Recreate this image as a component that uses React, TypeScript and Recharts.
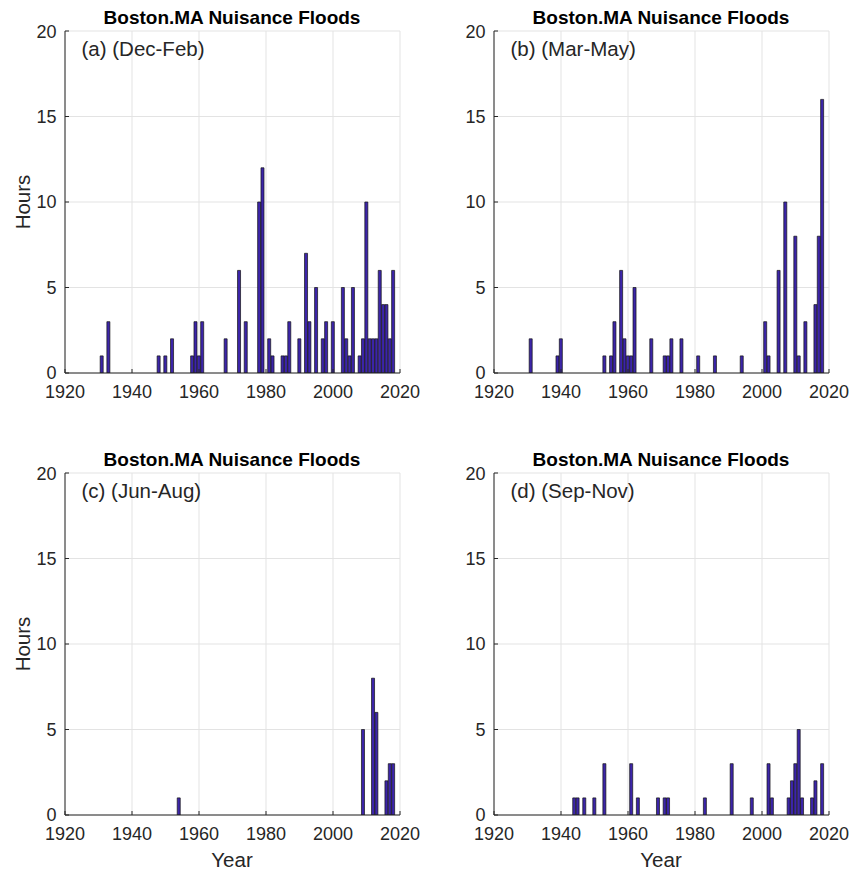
import { BarChart, Bar, XAxis, YAxis, CartesianGrid } from "recharts";

// hours of nuisance flooding per year, by season
const winterYears = [1931, 1933, 1948, 1950, 1952, 1958, 1959, 1960, 1961, 1968, 1972, 1974, 1978, 1979, 1981, 1982, 1985, 1986, 1987, 1990, 1992, 1993, 1995, 1997, 1998, 2000, 2003, 2004, 2005, 2006, 2008, 2009, 2010, 2011, 2012, 2013, 2014, 2015, 2016, 2017, 2018];
const winterHours = [1, 3, 1, 1, 2, 1, 3, 1, 3, 2, 6, 3, 10, 12, 2, 1, 1, 1, 3, 2, 7, 3, 5, 2, 3, 3, 5, 2, 1, 5, 1, 2, 10, 2, 2, 2, 6, 4, 4, 2, 6];

const springYears = [1931, 1939, 1940, 1953, 1955, 1956, 1958, 1959, 1960, 1961, 1962, 1967, 1971, 1972, 1973, 1976, 1981, 1986, 1994, 2001, 2002, 2005, 2007, 2010, 2011, 2013, 2016, 2017, 2018];
const springHours = [2, 1, 2, 1, 1, 3, 6, 2, 1, 1, 5, 2, 1, 1, 2, 2, 1, 1, 1, 3, 1, 6, 10, 8, 1, 3, 4, 8, 16];

const summerYears = [1954, 2009, 2012, 2013, 2016, 2017, 2018];
const summerHours = [1, 5, 8, 6, 2, 3, 3];

const fallYears = [1944, 1945, 1947, 1950, 1953, 1961, 1963, 1969, 1971, 1972, 1983, 1991, 1997, 2002, 2003, 2008, 2009, 2010, 2011, 2012, 2015, 2016, 2018];
const fallHours = [1, 1, 1, 1, 3, 3, 1, 1, 1, 1, 1, 3, 1, 3, 1, 1, 2, 3, 5, 1, 1, 2, 3];

const xTicks = [1920, 1940, 1960, 1980, 2000, 2020];
const yTicks = [0, 5, 10, 15, 20];

const FONT = '"Liberation Sans", Arial, Helvetica, sans-serif';
const INK = "#262626";
const PW = 335;
const PH = 342;

const toRows = (years: number[], hours: number[]) =>
  years.map((year, i) => ({ year, hours: hours[i] }));

type PanelProps = {
  left: number;
  top: number;
  label: string;
  years: number[];
  hours: number[];
  showHours: boolean;
  showYear: boolean;
};

const Panel = ({ left, top, label, years, hours, showHours, showYear }: PanelProps) => {
  const data = toRows(years, hours);
  const padL = 60;
  const padT = 10;
  const padR = 30;
  return (
    <>
      <div style={{ position: "absolute", left: left - padL, top: top - padT }}>
        <BarChart
          width={padL + PW + padR}
          height={padT + PH + 40}
          data={data}
          margin={{ top: padT, right: padR, bottom: 0, left: 0 }}
          barCategoryGap={0}
          barGap={0}
        >
          <CartesianGrid stroke="#e3e3e3" strokeWidth={1} />
          <XAxis
            dataKey="year"
            type="number"
            domain={[1920, 2020]}
            ticks={xTicks}
            allowDataOverflow
            height={40}
            stroke={INK}
            tickSize={-4}
            tickMargin={16.5}
            tick={{ fill: INK, fontSize: 18, fontFamily: FONT }}
          />
          <XAxis
            xAxisId="top"
            orientation="top"
            type="number"
            domain={[1920, 2020]}
            ticks={xTicks}
            allowDataOverflow
            height={0}
            stroke={INK}
            tickSize={-4}
            tick={false}
          />
          <YAxis
            type="number"
            domain={[0, 20]}
            ticks={yTicks}
            allowDataOverflow
            width={padL}
            stroke={INK}
            tickSize={-4}
            tickMargin={12.5}
            tick={{ fill: INK, fontSize: 18, fontFamily: FONT }}
          />
          <YAxis
            yAxisId="right"
            orientation="right"
            type="number"
            domain={[0, 20]}
            ticks={yTicks}
            width={0}
            stroke={INK}
            tickSize={-4}
            tick={false}
          />
          <Bar
            dataKey="hours"
            fill="#3c25a9"
            stroke="#141414"
            strokeWidth={0.7}
            barSize={PW / 100}
            isAnimationActive={false}
          />
        </BarChart>
      </div>
      <div
        style={{
          position: "absolute",
          left,
          width: PW,
          top: top - 25,
          textAlign: "center",
          fontFamily: FONT,
          fontWeight: "bold",
          fontSize: 19,
          lineHeight: "24px",
          color: "#000",
          whiteSpace: "nowrap",
        }}
      >
        Boston.MA Nuisance Floods
      </div>
      <div
        style={{
          position: "absolute",
          left: left + 17,
          top: top + 5,
          fontFamily: FONT,
          fontSize: 20.5,
          lineHeight: "26px",
          color: INK,
          whiteSpace: "nowrap",
        }}
      >
        {label}
      </div>
      {showHours && (
        <div
          style={{
            position: "absolute",
            left: left - 42 - 50,
            top: top + PH / 2 - 13,
            width: 100,
            textAlign: "center",
            transform: "rotate(-90deg)",
            fontFamily: FONT,
            fontSize: 20.5,
            lineHeight: "26px",
            color: INK,
          }}
        >
          Hours
        </div>
      )}
      {showYear && (
        <div
          style={{
            position: "absolute",
            left,
            width: PW,
            top: top + PH + 32,
            textAlign: "center",
            fontFamily: FONT,
            fontSize: 20.5,
            lineHeight: "26px",
            color: INK,
          }}
        >
          Year
        </div>
      )}
    </>
  );
};

export default function App() {
  return (
    <div
      style={{
        position: "absolute",
        left: 0,
        top: 0,
        width: 862,
        height: 872,
        background: "#fff",
        overflow: "hidden",
      }}
    >
      <Panel left={64.5} top={31.3} label="(a) (Dec-Feb)" years={winterYears} hours={winterHours} showHours showYear={false} />
      <Panel left={493.5} top={31.3} label="(b) (Mar-May)" years={springYears} hours={springHours} showHours={false} showYear={false} />
      <Panel left={64.5} top={472.8} label="(c) (Jun-Aug)" years={summerYears} hours={summerHours} showHours showYear />
      <Panel left={493.5} top={472.8} label="(d) (Sep-Nov)" years={fallYears} hours={fallHours} showHours={false} showYear />
    </div>
  );
}
